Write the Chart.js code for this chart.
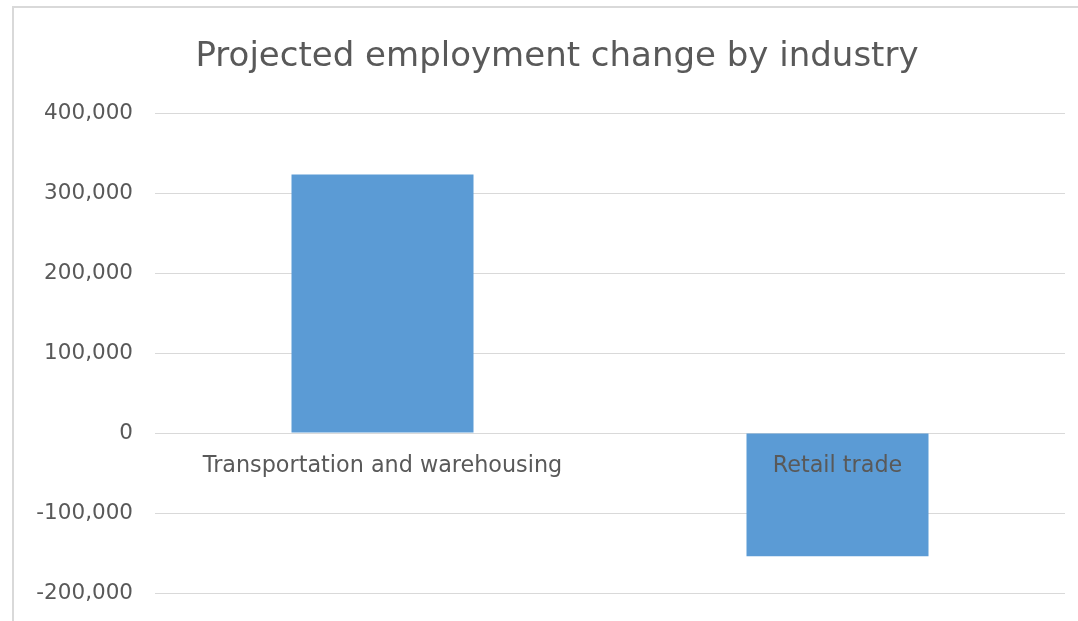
<!DOCTYPE html>
<html lang="en">
<head>
    <meta charset="UTF-8">
    <title>Projected employment change by industry</title>
    <script src="https://cdn.jsdelivr.net/npm/chart.js"></script>
    <style>
        html, body { margin: 0; padding: 0; overflow: hidden; background: #fff; width: 1078px; height: 621px; }
        .frame { position: absolute; left: 12px; top: 6px; width: 1100px; height: 700px; border: 2px solid #d9d9d9; }
        /* a little wider than the window: the original frame runs past the right edge */
        .wrap { position: absolute; left: 0; top: 0; width: 1084px; height: 621px; }
    </style>
</head>
<body>
<div class="frame"></div>
<div class="wrap"><canvas id="chart"></canvas></div>

<script>
// data
const industries = ['Transportation and warehousing', 'Retail trade'];
const employmentChange = [323000, -154000];
const yTickValues = [-200000, -100000, 0, 100000, 200000, 300000, 400000];

const textGray = '#595959';
const font = 'DejaVu Sans';

const ctx = document.getElementById('chart').getContext('2d');
new Chart(ctx, {
    type: 'bar',
    data: {
        labels: industries,
        datasets: [{
            data: employmentChange,
            backgroundColor: '#5b9bd5',
            borderWidth: 0,
            barPercentage: 0.4,
            categoryPercentage: 1
        }]
    },
    options: {
        responsive: true,
        maintainAspectRatio: false,
        animation: false,
        layout: { padding: { left: 30, right: 0, top: 0, bottom: 28 } },
        plugins: {
            legend: { display: false },
            tooltip: { enabled: false },
            title: {
                display: true,
                text: 'Projected employment change by industry',
                color: textGray,
                font: { family: font, size: 34, weight: 'normal' },
                padding: { top: 37, bottom: 35.2 }
            }
        },
        scales: {
            x: {
                position: { y: 0 },
                grid: { display: false },
                border: { display: false },
                ticks: {
                    color: textGray,
                    font: { family: font, size: 22.3 },
                    padding: 12,
                    maxRotation: 0,
                    z: 1
                },
                afterFit: (scale) => { scale.height = 0; }
            },
            y: {
                min: yTickValues[0],
                max: yTickValues[yTickValues.length - 1],
                afterBuildTicks: (scale) => { scale.ticks = yTickValues.map(v => ({ value: v })); },
                grid: { color: '#d9d9d9', lineWidth: 1, drawTicks: false },
                border: { display: false },
                ticks: {
                    color: textGray,
                    font: { family: font, size: 21.5 },
                    padding: 22,
                    callback: (v) => v.toLocaleString('en-US')
                },
                afterFit: (scale) => {
                    scale.width = 125;
                    scale.paddingTop = 0;
                    scale.paddingBottom = 0;
                }
            },
            // empty spacer on the right so the plot stops short of the frame
            spacer: {
                position: 'right',
                grid: { display: false },
                border: { display: false },
                ticks: { display: false },
                afterFit: (scale) => { scale.width = 19; }
            }
        }
    }
});
</script>
</body>
</html>
